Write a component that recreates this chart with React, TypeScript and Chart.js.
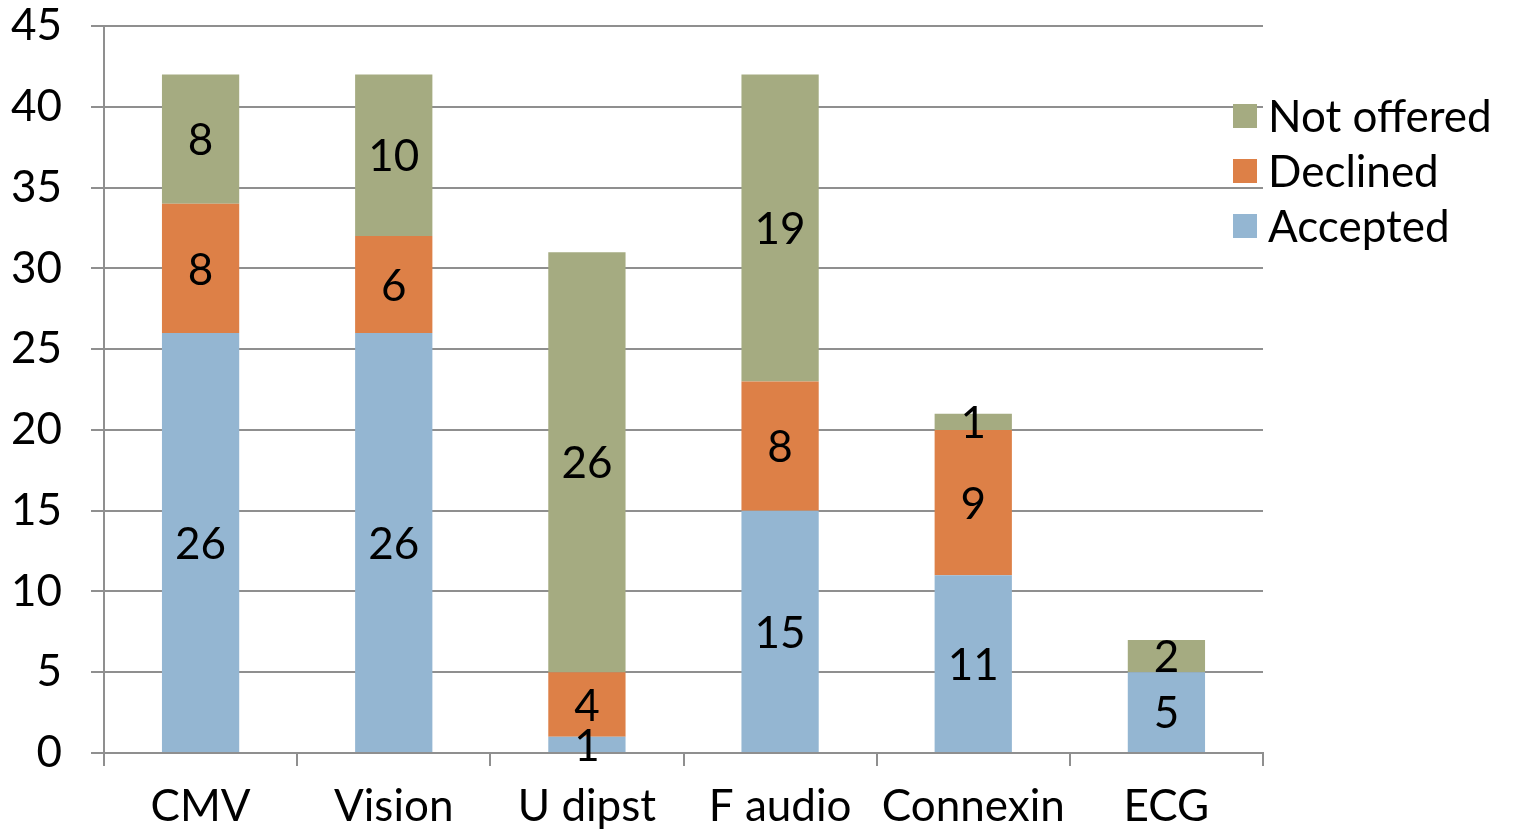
import React, { useEffect, useRef } from "react";
import { Chart, registerables } from "chart.js";

Chart.register(...registerables);

const categories = ["CMV", "Vision", "U dipst", "F audio", "Connexin", "ECG"];
const accepted = [26, 26, 1, 15, 11, 5];
const declined = [8, 6, 4, 8, 9, null];
const notOffered = [8, 10, 26, 19, 1, 2];
const yTicks = [0, 5, 10, 15, 20, 25, 30, 35, 40, 45];

const FONT = "Lato, 'DejaVu Sans', sans-serif";
const GRID = "#8f8f8f";
const FS = 44;

const valueLabels = {
  id: "valueLabels",
  afterDatasetsDraw(chart: any) {
    const ctx = chart.ctx;
    ctx.save();
    ctx.font = `${FS}px ${FONT}`;
    ctx.fillStyle = "#000";
    ctx.textAlign = "center";
    ctx.textBaseline = "middle";
    chart.data.datasets.forEach((ds: any, di: number) => {
      const meta = chart.getDatasetMeta(di);
      meta.data.forEach((el: any, i: number) => {
        const v = ds.data[i];
        if (v === null || v === undefined || v === 0) return;
        const cy = (el.y + el.base) / 2;
        ctx.fillText(String(v), el.x, cy + 2);
      });
    });
    ctx.restore();
  },
};

const customLegend = {
  id: "customLegend",
  afterDraw(chart: any) {
    const ctx = chart.ctx;
    ctx.save();
    ctx.font = `${FS}px ${FONT}`;
    ctx.textAlign = "left";
    ctx.textBaseline = "middle";
    const ds = chart.data.datasets.slice().reverse();
    ds.forEach((d: any, i: number) => {
      const cy = 116 + i * 55;
      ctx.fillStyle = d.backgroundColor;
      ctx.fillRect(1233, cy - 12, 24, 24);
      ctx.fillStyle = "#000";
      ctx.fillText(d.label, 1268, cy + 2);
    });
    ctx.restore();
  },
};

export default function App() {
  const ref = useRef<HTMLCanvasElement>(null);
  useEffect(() => {
    if (!ref.current) return;
    const chart = new Chart(ref.current, {
      type: "bar",
      data: {
        labels: categories,
        datasets: [
          { label: "Accepted", data: accepted, backgroundColor: "#94B6D2" },
          { label: "Declined", data: declined, backgroundColor: "#DD8047" },
          { label: "Not offered", data: notOffered, backgroundColor: "#A5AB81" },
        ],
      },
      options: {
        animation: false,
        responsive: false,
        maintainAspectRatio: false,
        layout: { padding: { top: 26, right: 250, left: 0, bottom: 0 } },
        datasets: { bar: { categoryPercentage: 1, barPercentage: 0.4 } },
        plugins: { legend: { display: false }, tooltip: { enabled: false } },
        scales: {
          x: {
            stacked: true,
            offset: true,
            grid: {
              offset: true,
              drawOnChartArea: false,
              drawTicks: true,
              tickLength: 13,
              color: GRID,
              lineWidth: 2,
            },
            border: { color: GRID, width: 2 },
            ticks: { font: { family: FONT, size: FS }, color: "#000", padding: 14, maxRotation: 0 },
            afterFit(scale: any) {
              scale.height = 79;
              scale.paddingLeft = 0;
              scale.paddingRight = 0;
            },
          },
          y: {
            stacked: true,
            min: 0,
            max: 45,
            afterBuildTicks(scale: any) {
              scale.ticks = yTicks.map((v) => ({ value: v }));
            },
            grid: { color: GRID, lineWidth: 2, tickLength: 13, drawTicks: true },
            border: { color: GRID, width: 2 },
            ticks: { font: { family: FONT, size: FS }, color: "#000", padding: 29 },
            afterFit(scale: any) {
              scale.width = 104;
              scale.paddingTop = 0;
              scale.paddingBottom = 0;
            },
          },
        },
      },
      plugins: [valueLabels, customLegend],
    });
    return () => chart.destroy();
  }, []);
  return (
    <div style={{ position: "fixed", left: 0, top: 0, width: 1513, height: 832, background: "#fff" }}>
      <canvas ref={ref} width={1513} height={832} style={{ width: 1513, height: 832 }} />
    </div>
  );
}
